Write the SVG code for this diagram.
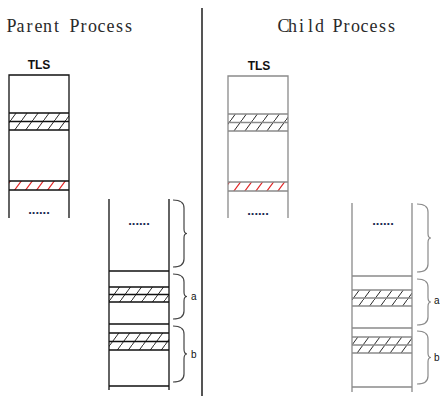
<svg xmlns="http://www.w3.org/2000/svg" width="440" height="398" viewBox="0 0 440 398">
  <style>
    .title { font-family: "Liberation Serif", "DejaVu Serif", serif; font-size: 18px; fill: #2a2a2a; text-anchor: middle; }
    .tls { font-family: "Liberation Sans", Arial, sans-serif; font-size: 12px; font-weight: bold; fill: #111; text-anchor: middle; }
    .dots { font-family: "Liberation Sans", Arial, sans-serif; font-size: 13px; font-weight: bold; fill: #1a2a50; text-anchor: middle; }
    .lbl { font-family: "Liberation Sans", Arial, sans-serif; font-size: 10px; fill: #111; }
    .pline { stroke: #111; stroke-width: 1.3; fill: none; }
    .cline { stroke: #8a8a8a; stroke-width: 1.3; fill: none; }
    .pbrace { stroke: #444; stroke-width: 1.2; fill: none; }
    .cbrace { stroke: #8a8a8a; stroke-width: 1.2; fill: none; }
  </style>
  <defs>
    <pattern id="hatch" patternUnits="userSpaceOnUse" width="11" height="15">
      <line x1="0" y1="15" x2="11" y2="0" stroke="#111" stroke-width="0.9"/>
    </pattern>
    <pattern id="hatch-red" patternUnits="userSpaceOnUse" width="11" height="15">
      <line x1="0" y1="15" x2="11" y2="0" stroke="#e02020" stroke-width="1.1"/>
    </pattern>
  </defs>

  <!-- divider -->
  <line id="divider" x1="202" y1="8" x2="202" y2="396" stroke="#555" stroke-width="2"/>

  <!-- titles -->
  <g id="parent-title">
    <text class="title" x="11.5 20.5 29.5 38.5 47.5 56.5 65.5 74.5 83.5 92.5 101.5 110.5 119.5 128.5" y="32">Parent Process</text>
  </g>
  <g id="child-title">
    <text class="title" x="283.5 292.5 301.5 310.5 319.5 328.5 337.5 346.5 355.5 364.5 373.5 382.5 391.5" y="32">Child Process</text>
  </g>

  <!-- parent TLS block -->
  <g id="parent-tls">
    <text class="tls" x="39" y="69">TLS</text>
    <rect x="9" y="113" width="60" height="17" fill="url(#hatch)"/>
    <rect x="9" y="181" width="60" height="9" fill="url(#hatch-red)"/>
    <path class="pline" d="M9,218 V75 H69 V218 M9,113 H69 M9,121.5 H69 M9,130 H69 M9,181 H69 M9,190 H69"/>
    <text class="dots" x="39" y="214">......</text>
  </g>

  <!-- parent stack block -->
  <g id="parent-stack">
    <rect x="109" y="287" width="60" height="15" fill="url(#hatch)"/>
    <rect x="109" y="333" width="60" height="17" fill="url(#hatch)"/>
    <path class="pline" d="M109,199 V390 M169,199 V390 M109,271 H169 M109,287 H169 M109,294.5 H169 M109,302 H169 M109,324 H169 M109,333 H169 M109,341.5 H169 M109,350 H169 M109,386 H169"/>
    <text class="dots" x="139" y="225">......</text>
  </g>

  <!-- child TLS block -->
  <g id="child-tls">
    <text class="tls" x="259" y="70">TLS</text>
    <rect x="228" y="114" width="60" height="17" fill="url(#hatch)"/>
    <rect x="228" y="182" width="60" height="9" fill="url(#hatch-red)"/>
    <path class="cline" d="M228,218 V76 H288 V218 M228,114 H288 M228,122.5 H288 M228,131 H288 M228,182 H288 M228,191 H288"/>
    <text class="dots" x="258" y="215">......</text>
  </g>

  <!-- child stack block -->
  <g id="child-stack">
    <rect x="352" y="290" width="60" height="16" fill="url(#hatch)"/>
    <rect x="352" y="337" width="60" height="16" fill="url(#hatch)"/>
    <path class="cline" d="M352,203 V392 M412,203 V392 M352,276 H412 M352,290 H412 M352,298 H412 M352,306 H412 M352,328 H412 M352,337 H412 M352,345 H412 M352,353 H412 M352,387 H412"/>
    <text class="dots" x="383" y="225">......</text>
  </g>

  <!-- braces and their labels -->
  <g id="braces">
    <path class="pbrace" d="M173,200 Q184,200 184,208 V229 Q184,233.5 187,233.5 Q184,233.5 184,238 V259 Q184,267 173,267"/>
    <path class="pbrace" d="M173,274 Q184,274 184,282 V292 Q184,296.5 187,296.5 Q184,296.5 184,301 V311 Q184,319 173,319"/>
    <path class="pbrace" d="M173,326 Q184,326 184,334 V349 Q184,354 187,354 Q184,354 184,359 V374 Q184,382 173,382"/>
    <text class="lbl" x="191" y="300">a</text>
    <text class="lbl" x="191" y="358">b</text>
    <path class="cbrace" d="M417,204 Q428,204 428,212 V233.5 Q428,238 431,238 Q428,238 428,242.5 V264 Q428,272 417,272"/>
    <path class="cbrace" d="M417,279 Q428,279 428,287 V297.5 Q428,302 431,302 Q428,302 428,306.5 V317 Q428,325 417,325"/>
    <path class="cbrace" d="M417,331 Q428,331 428,339 V353 Q428,357.5 431,357.5 Q428,357.5 428,362 V376 Q428,384 417,384"/>
    <text class="lbl" x="434" y="304">a</text>
    <text class="lbl" x="434" y="361">b</text>
  </g>
</svg>
